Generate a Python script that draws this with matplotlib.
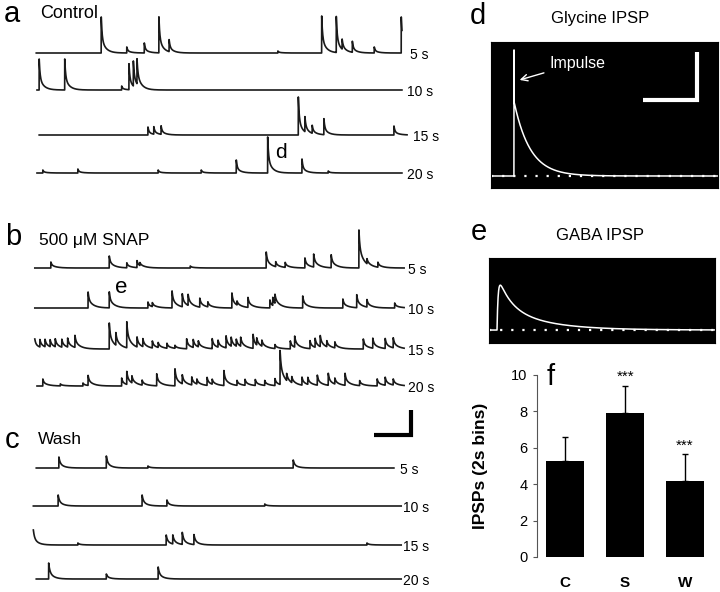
import numpy as np
import matplotlib
matplotlib.use('Agg')
import matplotlib.pyplot as plt

plt.rcParams['font.family'] = ['Liberation Sans', 'DejaVu Sans']

W, H = 720, 592          # figure size in pixels
PX_PER_S = 73.0          # trace time scale (px per second)
PX_PER_MV = 2.5          # trace voltage scale (px per mV)
T0_PX = 37               # pixel column where trace time 0 sits

# ---------------- data ----------------
trace_labels = ['5 s', '10 s', '15 s', '20 s']

# event times (s) and amplitudes (mV) for each 5 s sweep
ctrl_times = [
    [0.88, 1.23, 1.47, 1.67, 1.81, 3.30, 3.90, 4.10, 4.18, 4.32, 4.62, 4.99],
    [0.03, 0.38, 1.16, 1.26, 1.32, 1.37],
    [1.52, 1.60, 1.70, 3.58, 3.67, 3.77, 3.93, 4.89],
    [0.08, 0.56, 1.66, 2.25, 2.73, 3.16, 3.63, 3.99],
]
ctrl_amps = [
    [14.4, 2.4, 4.0, 14.4, 4.8, 0.8, 14.8, 14.4, 4.0, 4.4, 2.4, 14.4],
    [12.4, 12.4, 1.6, 10.4, 10.0, 10.0],
    [3.2, 3.0, 3.4, 15.2, 6.0, 3.2, 6.4, 3.6],
    [1.2, 1.6, 1.2, 1.2, 5.2, 14.4, 5.6, 0.8],
]

snap_times = [
    [0.19, 0.99, 1.23, 1.37, 1.41, 2.10, 3.14, 3.27, 3.40, 3.67, 3.79, 4.03,
     4.41, 4.52, 4.67],
    [0.70, 0.99, 1.52, 1.58, 1.85, 1.99, 2.07, 2.23, 2.34, 2.67, 2.74, 2.89,
     3.19, 3.23, 3.26, 3.64, 4.19, 4.38, 4.52, 4.90],
    [-0.03, 0.04, 0.11, 0.18, 0.25, 0.34, 0.42, 0.52, 0.99, 1.08, 1.23, 1.37,
     1.45, 1.58, 1.66, 1.78, 1.89, 2.05, 2.14, 2.21, 2.40, 2.48, 2.59, 2.66,
     2.73, 2.79, 2.96, 3.01, 3.08, 3.26, 3.47, 3.53, 3.74, 3.81, 3.88, 3.97,
     4.08, 4.47, 4.60, 4.77, 4.88],
    [0.08, 0.32, 0.63, 0.70, 1.16, 1.23, 1.30, 1.44, 1.64, 1.89, 1.99, 2.12,
     2.19, 2.33, 2.40, 2.56, 2.74, 2.85, 2.99, 3.12, 3.26, 3.33, 3.42, 3.49,
     3.63, 3.71, 3.84, 3.99, 4.08, 4.22, 4.42, 4.66, 4.77, 4.88],
]
snap_amps = [
    [2.4, 4.8, 2.0, 2.8, 1.2, 0.8, 6.4, 2.0, 2.0, 4.0, 5.2, 5.2,
     15.2, 2.0, 2.0],
    [6.4, 6.4, 2.4, 1.6, 6.8, 5.2, 4.4, 3.6, 2.0, 6.0, 1.6, 4.0,
     3.2, 3.2, 3.6, 4.8, 3.6, 5.2, 3.0, 2.0],
    [4.0, 3.0, 3.0, 2.8, 3.2, 3.2, 3.6, 4.8, 10.4, 5.0, 10.4, 4.0,
     3.2, 2.8, 2.0, 2.0, 1.2, 4.0, 3.2, 2.4, 4.0, 2.8, 4.8, 3.6,
     2.8, 3.6, 5.6, 2.8, 2.4, 1.6, 3.2, 4.4, 3.2, 3.6, 4.4, 2.4,
     2.4, 4.0, 4.0, 4.0, 4.0],
    [2.8, 0.8, 1.2, 4.0, 3.2, 5.2, 2.8, 2.0, 4.8, 6.8, 3.6, 3.2,
     2.0, 3.2, 2.0, 6.0, 2.0, 2.4, 2.4, 2.0, 2.8, 13.6, 2.8, 2.4,
     3.2, 2.8, 4.0, 4.8, 2.4, 4.8, 2.0, 2.8, 3.2, 2.4],
]

wash_times = [
    [0.30, 0.95, 1.52, 3.51],
    [0.29, 1.44, 1.78, 3.12],
    [-0.05, 0.56, 1.77, 1.86, 1.99, 2.15, 4.52],
    [0.16, 0.95, 1.66],
]
wash_amps = [
    [4.4, 4.8, 0.8, 3.2],
    [4.4, 4.4, 2.4, 0.8],
    [6.0, 0.8, 4.0, 3.6, 4.8, 4.0, 0.8],
    [6.4, 2.0, 4.8],
]

# single evoked IPSPs (ms, mV)
gly_impulse_ms = 21.3
gly_impulse_mv = 5.25
gly_amp_mv = 3.1
gly_tau_ms = 14.8

gaba_onset_ms = 7.4
gaba_amps_mv = [1.25, 1.12]
gaba_taus_ms = [11.1, 37.0]
gaba_rise_ms = 1.0

# bar chart
conditions = ['C', 'S', 'W']
ipsp_mean = [5.3, 7.9, 4.15]
ipsp_err = [1.3, 1.5, 1.5]
signif = ['', '***', '***']

# ---------------- layout (pixels) ----------------
ctrl_base = [53, 90, 135, 173]
snap_base = [268, 308, 349, 386]
wash_base = [468, 506, 545, 579]
ctrl_span = [(-0.01, 5.0), (0.0, 5.0), (0.03, 5.07), (0.0, 5.0)]
snap_span = [(-0.03, 5.03), (-0.03, 5.03), (-0.03, 5.03), (0.0, 5.03)]
wash_span = [(-0.01, 4.89), (-0.05, 4.99), (-0.05, 4.99), (-0.01, 4.99)]
ctrl_lab_x = [410, 407, 413, 407]
snap_lab_x = [408, 408, 408, 408]
wash_lab_x = [400, 403, 403, 403]

ctrl_kernel = [(0.6, 0.012), (0.4, 0.06)]
snap_kernel = [(0.45, 0.012), (0.55, 0.07)]
wash_kernel = [(0.5, 0.015), (0.5, 0.06)]


def build_trace(t, times, amps, kernel):
    y = np.zeros_like(t)
    for t0, a in zip(times, amps):
        m = t >= t0 - 1e-9
        dt = t[m] - t0
        for w, tau in kernel:
            y[m] += a * w * np.exp(-np.clip(dt, 0, None) / tau)
    return y


def px_box(x0, y0, x1, y1):
    return [x0 / W, 1 - y1 / H, (x1 - x0) / W, (y1 - y0) / H]


fig = plt.figure(figsize=(W / 100, H / 100), dpi=100)

# one invisible axes for all the sweeps (x in s, y in mV)
ax = fig.add_axes([0, 0, 1, 1])
ax.set_xlim(-T0_PX / PX_PER_S, (W - T0_PX) / PX_PER_S)
ax.set_ylim(0, H / PX_PER_MV)
ax.axis('off')

panels = [
    (ctrl_times, ctrl_amps, ctrl_base, ctrl_span, ctrl_lab_x, ctrl_kernel),
    (snap_times, snap_amps, snap_base, snap_span, snap_lab_x, snap_kernel),
    (wash_times, wash_amps, wash_base, wash_span, wash_lab_x, wash_kernel),
]
for times, amps, base, span, lab_x, kern in panels:
    for i in range(4):
        t = np.round(np.arange(span[i][0], span[i][1], 0.001), 3)
        v = build_trace(t, times[i], amps[i], kern)
        off = (H - base[i]) / PX_PER_MV
        ax.plot(t, v + off, color='#1a1a1a', lw=1.2)
        fig.text(lab_x[i] / W, 1 - (base[i] + 2) / H, trace_labels[i],
                 fontsize=10, ha='left', va='center')

# scale bar for the sweeps: 0.5 s, 10 mV
sb_t, sb_v = (374 - T0_PX) / PX_PER_S, (H - 435) / PX_PER_MV
ax.plot([sb_t, sb_t + 0.5, sb_t + 0.5], [sb_v, sb_v, sb_v + 10],
        color='black', lw=3, solid_capstyle='butt', solid_joinstyle='miter')

# panel letters and titles
def ftext(x, y, s, **kw):
    fig.text(x / W, 1 - y / H, s, **kw)

ftext(12, 14, 'a', fontsize=21, ha='center', va='center')
ftext(40, 13, 'Control', fontsize=13, ha='left', va='center')
ftext(13, 237, 'b', fontsize=21, ha='center', va='center')
ftext(39, 241, '500 μM SNAP', fontsize=12.5, ha='left', va='center')
ftext(12, 440, 'c', fontsize=21, ha='center', va='center')
ftext(38, 440, 'Wash', fontsize=12.5, ha='left', va='center')
ftext(281, 152, 'd', fontsize=15, ha='center', va='center')
ftext(121, 287, 'e', fontsize=16, ha='center', va='center')
ftext(478, 16, 'd', fontsize=21, ha='center', va='center')
ftext(600, 19, 'Glycine IPSP', fontsize=12, ha='center', va='center')
ftext(479, 232, 'e', fontsize=21, ha='center', va='center')
ftext(600, 235, 'GABA IPSP', fontsize=12, ha='center', va='center')

# ---------------- d: glycine IPSP ----------------
axd = fig.add_axes(px_box(491, 42, 718, 188))
axd.set_facecolor('black')
td = np.round(np.arange(0, 210, 0.1), 1)
vd = np.where(td >= gly_impulse_ms,
              gly_amp_mv * np.exp(-np.clip(td - gly_impulse_ms, 0, None) / gly_tau_ms), 0.0)
vd[np.argmin(np.abs(td - gly_impulse_ms))] = gly_impulse_mv
axd.plot(td, vd, color='white', lw=1.1)
axd.plot([0, 210], [0, 0], color='white', lw=1.6, ls=(0, (1, 4)))
axd.set_xlim(0, 210)
axd.set_ylim(-0.5, 5.58)
# scale bar 50 ms / 2 mV
axd.plot([140.7, 190.7, 190.7], [3.17, 3.17, 5.17], color='white', lw=3,
         solid_capstyle='butt', solid_joinstyle='miter')
axd.annotate('Impulse', xy=(26.5, 4.0), xytext=(54, 4.7), color='white',
             fontsize=11.5, va='center', ha='left',
             arrowprops=dict(arrowstyle='->', color='white', lw=1,
                             shrinkA=2, shrinkB=0))
axd.set_xticks([])
axd.set_yticks([])

# ---------------- e: GABA IPSP ----------------
axe = fig.add_axes(px_box(489, 258, 715, 343))
axe.set_facecolor('black')
te = np.arange(0, 209, 0.1)
ve = np.zeros_like(te)
m = te >= gaba_onset_ms
s = te[m] - gaba_onset_ms
for a, tau in zip(gaba_amps_mv, gaba_taus_ms):
    ve[m] += a * (np.exp(-s / tau) - np.exp(-s / gaba_rise_ms))
axe.plot(te, ve, color='white', lw=1.1)
axe.plot([0, 209], [0, 0], color='white', lw=1.6, ls=(0, (1, 4)))
axe.set_xlim(0, 209)
axe.set_ylim(-0.54, 3.0)
axe.set_xticks([])
axe.set_yticks([])

# ---------------- f: bar chart ----------------
axf = fig.add_axes(px_box(537, 375, 718, 557))
x = np.arange(len(conditions))
axf.bar(x, ipsp_mean, width=0.63, color='black',
        yerr=[np.zeros(len(x)), ipsp_err], ecolor='black',
        error_kw=dict(lw=1, capsize=2.5, capthick=1))
for xi, mval, e, lab in zip(x, ipsp_mean, ipsp_err, signif):
    if lab:
        axf.text(xi, mval + e + 0.1, lab, ha='center', va='bottom', fontsize=11)
axf.set_xlim(-0.47, 2.55)
axf.set_ylim(0, 10)
axf.set_yticks([0, 2, 4, 6, 8, 10])
axf.set_xticks(x)
axf.set_xticklabels(conditions, fontweight='bold', fontsize=11)
axf.tick_params(axis='x', length=0, pad=14)
axf.tick_params(axis='y', length=3, width=0.8, labelsize=10.5, pad=4, color='#555555')
for sp in ['top', 'right', 'bottom']:
    axf.spines[sp].set_visible(False)
axf.spines['left'].set_color('#555555')
axf.spines['left'].set_linewidth(0.8)
axf.set_ylabel('IPSPs (2s bins)', fontweight='bold', fontsize=12.5)
axf.yaxis.set_label_coords(-0.27, 0.5)
axf.text(-0.24, 9.9, 'f', fontsize=21, ha='center', va='center')

fig.savefig('out.png', dpi=100)
